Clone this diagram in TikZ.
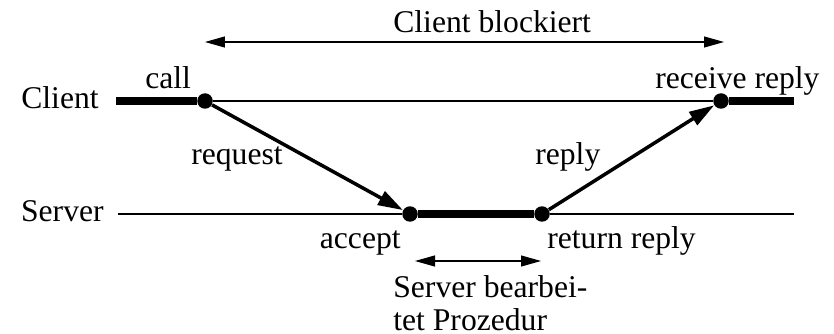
\documentclass[tikz,border=0pt]{standalone}
\usepackage{fontspec}
\setmainfont{Liberation Serif}
\usetikzlibrary{arrows.meta}

\begin{document}
\begin{tikzpicture}[x=0.02cm, y=-0.02cm,
    lbl/.style={inner sep=0pt, font=\fontsize{18}{18.8}\selectfont},
    dot/.style={circle, fill, inner sep=0pt, minimum size=0.31cm},
    thinline/.style={line width=0.6pt},
    thickline/.style={line width=4pt},
    msg/.style={-{Triangle[length=0.5cm, width=0.3cm]}, line width=2pt},
    span/.style={{Triangle[length=0.4cm, width=0.22cm]}-{Triangle[length=0.4cm, width=0.22cm]},
                 line width=0.6pt}
  ]
  \useasboundingbox (0,0) rectangle (834,334);
  % Zeitlinien
  \coordinate (cl0) at (116,101);
  \coordinate (cl1) at (794,101);
  \coordinate (sv0) at (118,214);
  \coordinate (sv1) at (794,214);
  % Ereignisse
  \node[dot] (call) at (205,101) {};
  \node[dot] (recv) at (721,101) {};
  \node[dot] (accept) at (410,214) {};
  \node[dot] (ret) at (542,214) {};
  % Beschriftungen
  \node[lbl, anchor=base east] (client) at (99,109) {Client};
  \node[lbl, anchor=base east] (server) at (104,221) {Server};
  \node[lbl, anchor=base west] (calllbl) at (145,89) {call};
  \node[lbl, anchor=base west] (recvlbl) at (655,89) {receive reply};
  \node[lbl, anchor=base west] (reqlbl) at (191,165) {request};
  \node[lbl, anchor=base west] (replbl) at (535,165) {reply};
  \node[lbl, anchor=base east] (acclbl) at (401,248) {accept};
  \node[lbl, anchor=base west] (retlbl) at (547,248) {return reply};
  \node[lbl, anchor=base west] (block) at (393,33) {Client blockiert};
  \node[lbl, anchor=south west, align=left] (proc) at (393,331)
       {Server bearbei-\\tet Prozedur};
  % Spannen
  \coordinate (bl0) at (205,42);
  \coordinate (bl1) at (724,42);
  \coordinate (pr0) at (415,261);
  \coordinate (pr1) at (541,261);
  % Linien
  \draw[thickline] (cl0) -- (call);
  \draw[thinline] (call) -- (recv);
  \draw[thickline] (recv) -- (cl1);
  \draw[thinline] (sv0) -- (accept);
  \draw[thickline] (accept) -- (ret);
  \draw[thinline] (ret) -- (sv1);
  % Nachrichten
  \draw[msg] (call) -- (accept);
  \draw[msg] (ret) -- (recv);
  \draw[span] (bl0) -- (bl1);
  \draw[span] (pr0) -- (pr1);
\end{tikzpicture}
\end{document}
